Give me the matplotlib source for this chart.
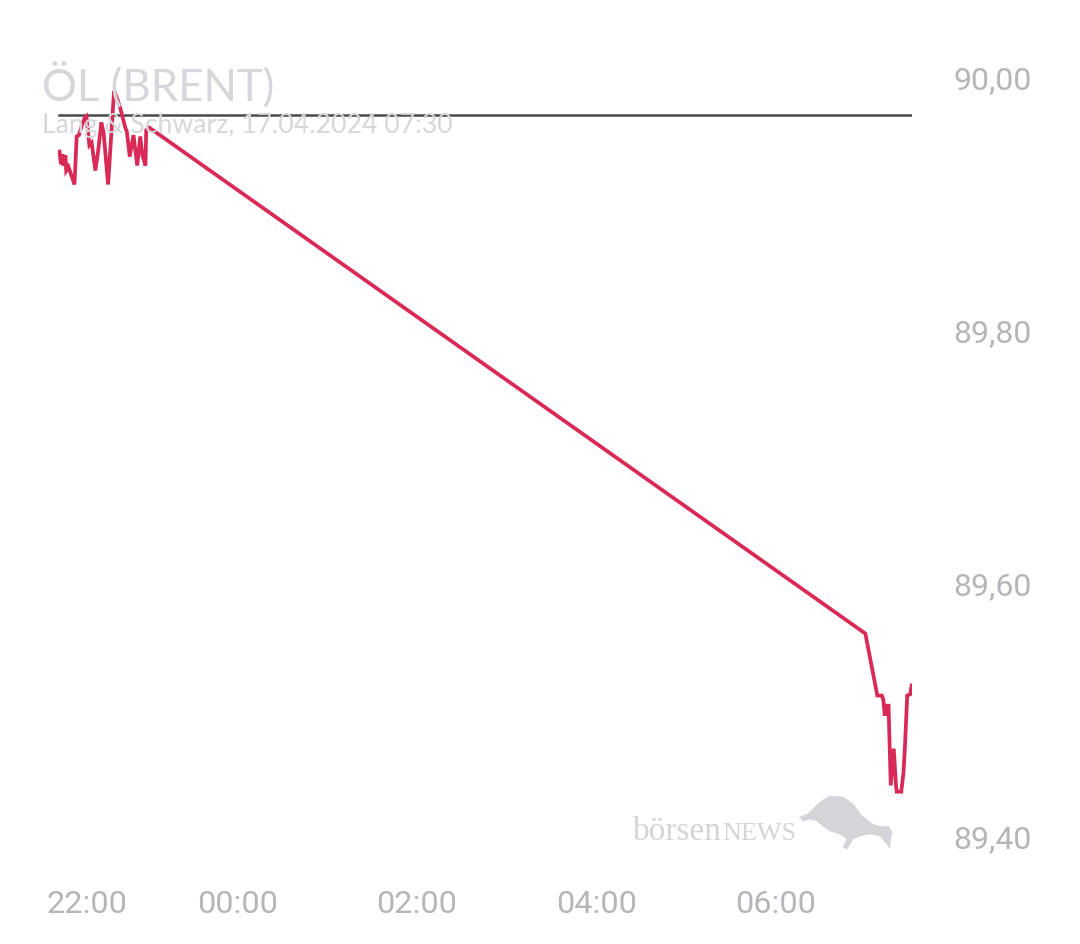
import matplotlib
matplotlib.use("Agg")
import matplotlib.pyplot as plt
import matplotlib.dates as mdates
import matplotlib.transforms as mtransforms
from matplotlib.patches import Polygon
import pandas as pd

# Minutes after 16.04.2024 22:00 and price (Lang & Schwarz, Brent)
minutes = [1, 2, 3, 3.5, 5, 5.5, 7, 11, 12.5, 14, 16, 18, 19, 21, 22.5, 25, 27, 29,
           30.5, 33.5, 37.5, 39.5, 41.5, 45, 46, 48, 50.5, 53, 55, 56.5, 58.5, 59, 61,
           540, 548, 551, 552, 553, 554, 555.5, 557, 559, 560.5, 561, 564, 565.5,
           566.5, 568, 570, 571]
prices = [89.941, 89.931, 89.939, 89.930, 89.938, 89.926, 89.929, 89.915, 89.953,
          89.954, 89.962, 89.968, 89.969, 89.946, 89.948, 89.926, 89.943, 89.964,
          89.956, 89.915, 89.989, 89.983, 89.976, 89.960, 89.957, 89.937, 89.954,
          89.930, 89.953, 89.938, 89.930, 89.958, 89.960,
          89.560, 89.511, 89.511, 89.508, 89.495, 89.503, 89.503, 89.440, 89.469,
          89.440, 89.435, 89.435, 89.450, 89.471, 89.511, 89.512, 89.519]
prev_close = 89.970

start = pd.Timestamp("2024-04-16 22:00")
times = [start + pd.Timedelta(minutes=m) for m in minutes]
tick_times = [start + pd.Timedelta(hours=h) for h in (0, 2, 4, 6, 8)]
tick_labels = ["22:00", "00:00", "02:00", "04:00", "06:00"]
y_ticks = [89.40, 89.60, 89.80, 90.00]

W, H = 1080, 945
fig = plt.figure(figsize=(W / 100, H / 100), dpi=100)
# axes box in pixels: x 58..912, y 70..850
ax = fig.add_axes([58 / W, 1 - 850 / H, (912 - 58) / W, (850 - 70) / H])

ax.plot(times, prices, color="#d92a57", lw=2.7, solid_joinstyle="miter", zorder=3)
ax.plot([times[0], times[-1]], [prev_close, prev_close], color="#4a4a4a", lw=1.8, zorder=2)

ax.set_xlim(start, start + pd.Timedelta(hours=9.52))
ax.set_ylim(89.3897, 90.0063)

for s in ax.spines.values():
    s.set_visible(False)

label_color = "#b6b6ba"
ax.set_xticks([mdates.date2num(t) for t in tick_times])
ax.set_xticklabels(tick_labels, fontsize=23.3, color=label_color, family="Roboto")
ax.tick_params(axis="x", length=0, pad=29)
# first label sits shifted right so it is not clipped at the edge
off = mtransforms.ScaledTranslation(0.29, 0, fig.dpi_scale_trans)
first = ax.get_xticklabels()[0]
first.set_transform(first.get_transform() + off)

ax.yaxis.tick_right()
ax.set_yticks(y_ticks)
ax.set_yticklabels([f"{v:.2f}".replace(".", ",") for v in y_ticks],
                   fontsize=23.0, color=label_color, family="Roboto")
ax.tick_params(axis="y", length=0, pad=30)

title_color = "#d5d7da"
fig.text(42 / W, 1 - 100 / H, "ÖL (BRENT)", fontsize=31.5, color=title_color,
         family="Lato", va="baseline", zorder=1)
fig.text(42 / W, 1 - 133 / H, "Lang & Schwarz, 17.04.2024 07:30", fontsize=19.2,
         color=title_color, family="Lato", va="baseline", zorder=1)

# watermark
wm = "#d3d5d8"
t1 = ax.text(633 / W, 1 - 840 / H, "börsen", transform=fig.transFigure, fontsize=24,
             color=wm, family="Liberation Serif", va="baseline", zorder=1)
fig.canvas.draw()
bb = t1.get_window_extent()
ax.text(bb.x1 / W, 1 - 840 / H, "NEWS", transform=fig.transFigure, fontsize=18.8,
        color=wm, family="Liberation Serif", va="baseline", zorder=1)

# rough bull silhouette of the logo, in pixel coordinates (top-left origin)
bull = [(800, 818), (808, 815), (820, 803), (830, 797), (843, 798), (853, 805),
        (862, 817), (872, 825), (882, 828), (888, 827), (892, 833), (890, 843),
        (890, 849), (887, 845), (880, 837), (870, 835), (860, 837), (853, 840),
        (847, 850), (843, 848), (847, 840), (840, 835), (830, 832), (823, 827),
        (817, 822), (810, 820), (803, 822)]
fig.patches.append(Polygon([(x / W, 1 - y / H) for x, y in bull], closed=True,
                           transform=fig.transFigure, facecolor=wm, edgecolor=wm,
                           lw=0.5, zorder=1))

fig.savefig("out.png", dpi=100, facecolor="white")
